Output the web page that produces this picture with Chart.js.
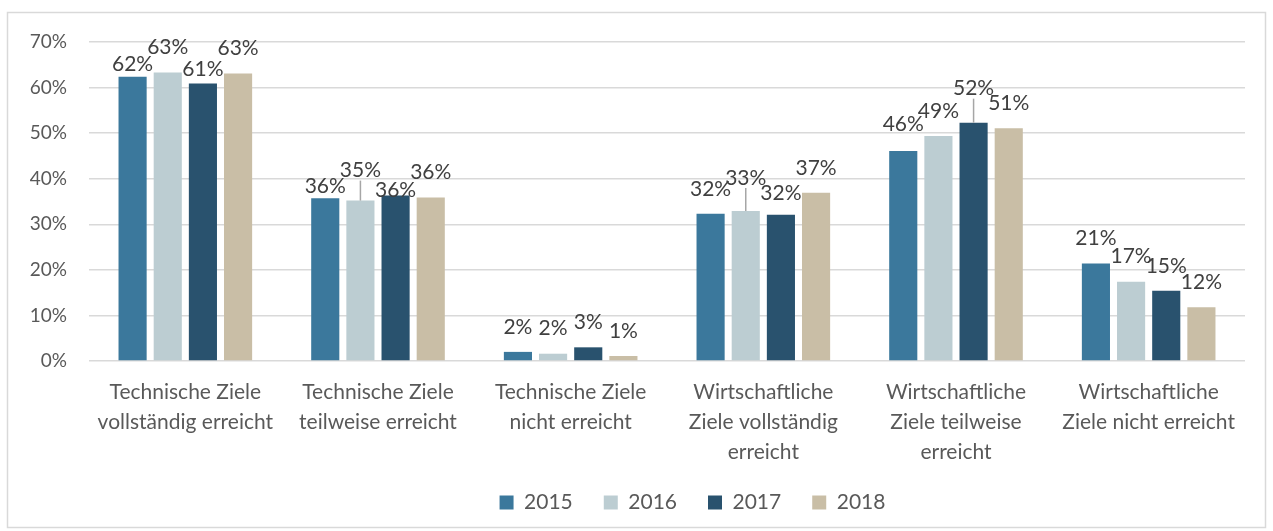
<!DOCTYPE html>
<html>
<head>
<meta charset="utf-8">
<script src="https://cdn.jsdelivr.net/npm/chart.js@4/dist/chart.umd.min.js"></script>
<style>
  html, body { margin: 0; padding: 0; background: #ffffff; }
  #wrap { position: relative; width: 1273px; height: 531px; }
</style>
</head>
<body>
<div id="wrap"><canvas id="zieleChart" width="1273" height="531"></canvas></div>
<script>
var kategorien = [
    ['Technische Ziele', 'vollständig erreicht'],
    ['Technische Ziele', 'teilweise erreicht'],
    ['Technische Ziele', 'nicht erreicht'],
    ['Wirtschaftliche', 'Ziele vollständig', 'erreicht'],
    ['Wirtschaftliche', 'Ziele teilweise', 'erreicht'],
    ['Wirtschaftliche', 'Ziele nicht erreicht']
];
var jahre = ['2015', '2016', '2017', '2018'];
var werte2015 = [62.4, 35.7, 2.0, 32.3, 46.1, 21.4];
var werte2016 = [63.3, 35.2, 1.6, 32.9, 49.4, 17.4];
var werte2017 = [60.9, 36.3, 3.0, 32.1, 52.3, 15.4];
var werte2018 = [63.1, 35.9, 1.1, 36.9, 51.1, 11.8];
var yTicks = [0, 10, 20, 30, 40, 50, 60, 70];

var farben = ['#3b789c', '#bccdd2', '#29526e', '#c9bea6'];

// Verschiebung der Beschriftungen (px nach oben) und Fuehrungslinien
var hebung = [
    [-13, -13, 0, 0, 2, 0],
    [0, 5, 0, 8, 0, 0],
    [-11, -20, 0, -4, 9, 0],
    [0, 0, 0, 0, 0, 0]
];
var fuehrung = [
    [false, false, false, false, false, false],
    [false, true, false, true, false, false],
    [false, false, false, false, true, false],
    [false, false, false, false, false, false]
];

var alleWerte = [werte2015, werte2016, werte2017, werte2018];

var rahmenPlugin = {
    id: 'rahmen',
    beforeDraw: function (chart) {
        var ctx = chart.ctx;
        ctx.save();
        ctx.fillStyle = '#ffffff';
        ctx.fillRect(0, 0, chart.width, chart.height);
        ctx.strokeStyle = '#d9d9d9';
        ctx.lineWidth = 1.5;
        ctx.strokeRect(7.5, 12.5, 1258, 515);
        ctx.restore();
    },
    afterLayout: function (chart) {
        // Legende wie im Original etwas nach rechts und unten
        var lg = chart.legend;
        var dx = 70, dy = 461 - lg.top;
        lg.left += dx; lg.right += dx;
        lg.top += dy; lg.bottom += dy;
    }
};

var beschriftungPlugin = {
    id: 'beschriftung',
    afterDatasetsDraw: function (chart) {
        var ctx = chart.ctx;
        ctx.save();
        ctx.font = '21px Lato';
        ctx.textAlign = 'center';
        ctx.textBaseline = 'middle';
        chart.data.datasets.forEach(function (ds, i) {
            var meta = chart.getDatasetMeta(i);
            meta.data.forEach(function (bar, j) {
                var y = bar.y - 25 - hebung[i][j];
                if (fuehrung[i][j]) {
                    ctx.strokeStyle = '#a6a6a6';
                    ctx.lineWidth = 1.5;
                    ctx.beginPath();
                    ctx.moveTo(bar.x, bar.y);
                    ctx.lineTo(bar.x, y + 10);
                    ctx.stroke();
                }
                ctx.fillStyle = '#404040';
                ctx.fillText(Math.round(ds.data[j]) + '%', bar.x, y);
            });
        });
        ctx.restore();
    }
};

var ctxZiele = document.getElementById('zieleChart').getContext('2d');
var chartZiele = new Chart(ctxZiele, {
    type: 'bar',
    data: {
        labels: kategorien,
        datasets: jahre.map(function (jahr, i) {
            return {
                label: jahr,
                data: alleWerte[i],
                backgroundColor: farben[i],
                categoryPercentage: 0.73,
                barPercentage: 0.8
            };
        })
    },
    options: {
        responsive: false,
        animation: false,
        layout: {
            padding: { left: 0, right: 28, top: 42, bottom: 0 }
        },
        plugins: {
            legend: {
                position: 'bottom',
                labels: {
                    boxWidth: 14,
                    boxHeight: 14,
                    padding: 31,
                    color: '#595959',
                    font: { family: 'Lato', size: 21 }
                }
            },
            tooltip: { enabled: false }
        },
        scales: {
            x: {
                afterFit: function (scale) { scale.height = 108; },
                grid: { display: false },
                border: { display: false },
                ticks: {
                    color: '#595959',
                    font: { family: 'Lato', size: 21, lineHeight: 1.43 },
                    padding: 8,
                    maxRotation: 0,
                    autoSkip: false
                }
            },
            y: {
                min: 0,
                max: 70,
                afterFit: function (scale) { scale.width = 89; },
                afterBuildTicks: function (scale) {
                    scale.ticks = yTicks.map(function (v) { return { value: v }; });
                },
                grid: { color: '#d9d9d9', lineWidth: 1.5, drawTicks: false },
                border: { display: false },
                ticks: {
                    color: '#595959',
                    font: { family: 'Lato', size: 19 },
                    padding: 22,
                    callback: function (v) { return v + '%'; }
                }
            }
        }
    },
    plugins: [rahmenPlugin, beschriftungPlugin]
});
</script>
</body>
</html>
